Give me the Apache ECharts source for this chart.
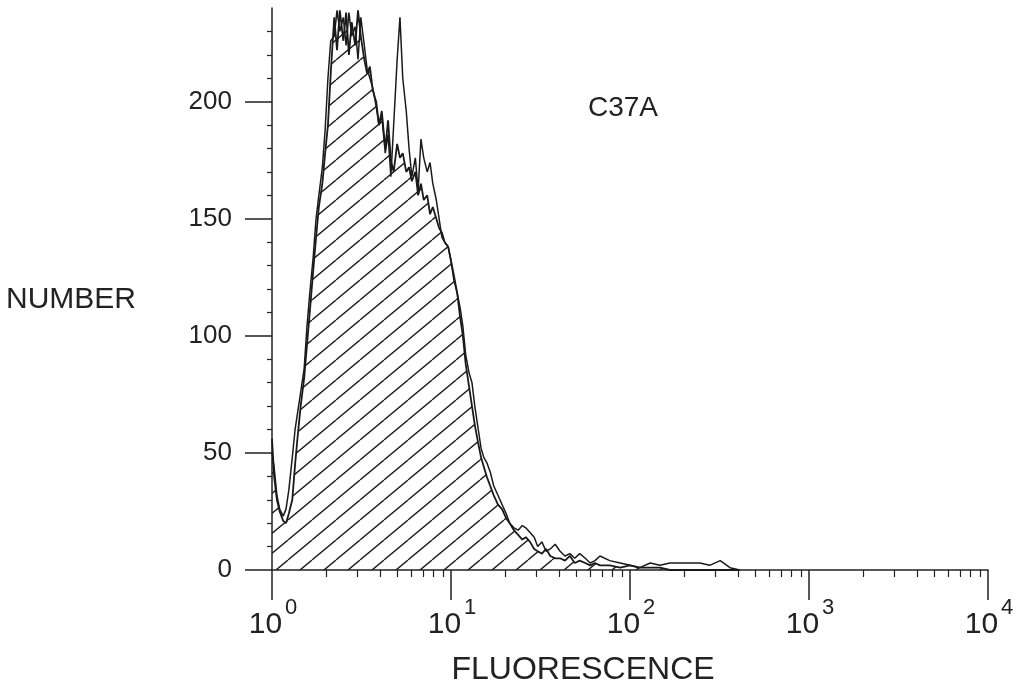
<!DOCTYPE html>
<html>
<head>
<meta charset="utf-8">
<script src="https://cdn.jsdelivr.net/npm/echarts@6/dist/echarts.min.js"></script>
<style>
html,body{margin:0;padding:0;background:#fff;}
#chart{width:1013px;height:687px;}
</style>
</head>
<body>
<div id="chart"></div>
<script>
// Fluorescence channel (0..1024 spans 10^0..10^4 on a 4-decade log scale)
const channels = [0,3,7,11,16,20,24,29,33,37,41,46,50,54,59,63,67,72,76,80,84,89,93,97,102,106,110,114,119,123,127,132,136,140,144,149,153,157,162,166,170,174,179,183,187,192,196,200,205,209,213,217,222,226,230,235,239,243,247,252,256,260,265,269,273,277,282,286,290,295,299,303,307,312,317,323,329,335,340,346,352,358,363,369,375,380,386,392,398,405,412,419,426,433,440,448,455,462,469,483,498,512,526,541,555,569,584,598,612,626,641,655,669];
// Hatched histogram (C37A)
const hatchedCounts = [56,40,30,25,21,20,24,30,45,58,70,82,96,110,128,142,155,165,178,190,212,236,222,239,226,238,220,234,224,239,228,218,212,215,205,200,190,196,180,192,175,170,182,176,178,170,172,166,170,160,165,158,160,152,155,150,146,144,140,138,132,126,118,108,100,88,78,70,62,54,48,44,40,36,32,28,26,22,20,17,15,13,14,12,9,8,7,9,6,5,5,4,6,3,4,3,2,3,2,2,1,2,1,1,1,0,0,0,0,0,0,0,0];
// Outline histogram
const outlineCounts = [50,44,32,26,23,26,34,48,60,68,76,86,104,118,134,150,160,172,188,210,226,228,239,230,236,224,238,228,232,218,236,224,214,210,206,198,190,194,178,186,168,190,218,236,210,196,180,168,176,162,184,176,170,174,165,158,150,142,140,138,132,124,118,112,104,92,84,80,70,60,52,48,46,42,36,32,28,24,20,18,17,19,18,16,14,10,12,8,9,11,8,6,7,5,7,5,3,4,6,4,3,2,1,3,2,3,3,3,3,2,4,1,0];
// Tick labels
const decadeExponents = [0,1,2,3,4];
const yMajorTicks = [0,50,100,150,200];
const yMinorTicks = [10,20,30,40,60,70,80,90,110,120,130,140,160,170,180,190,210,220,230];
const subDecadeMultipliers = [2,3,4,5,6,7,8,9];
const CHANNELS_PER_DECADE = 256;
const sampleLabel = 'C37A';
const xTitle = 'FLUORESCENCE';
const yTitle = 'NUMBER';

const majorX = decadeExponents.map(e => e * CHANNELS_PER_DECADE);
const minorX = [];
for (let d = 0; d < 4; d++) {
  subDecadeMultipliers.forEach(k => minorX.push((d + Math.log10(k)) * CHANNELS_PER_DECADE));
}

// hatch pattern
const tw = 24, th = 20;
const pc = document.createElement('canvas');
pc.width = tw; pc.height = th;
const ctx = pc.getContext('2d');
ctx.strokeStyle = '#222';
ctx.lineWidth = 1.4;
ctx.beginPath();
ctx.moveTo(0, th); ctx.lineTo(tw, 0);
ctx.moveTo(-tw, th); ctx.lineTo(0, 0);
ctx.moveTo(tw, th); ctx.lineTo(2 * tw, 0);
ctx.stroke();

const font = 'Liberation Sans';
const ink = '#222';
const chart = echarts.init(document.getElementById('chart'), null, {renderer: 'canvas'});
chart.setOption({
  animation: false,
  backgroundColor: '#fff',
  textStyle: {fontFamily: font},
  grid: {left: 272, right: 25, top: 8, bottom: 117, containLabel: false, outerBoundsMode: 'none'},
  xAxis: [{
    // main axis: line, major ticks, "10" base of labels, title
    type: 'value', min: 0, max: 1024, position: 'bottom',
    axisLine: {show: true, onZero: false, lineStyle: {color: ink, width: 1.5}},
    axisTick: {show: true, customValues: majorX, length: 30, lineStyle: {color: ink, width: 1.5}},
    axisLabel: {
      show: true, customValues: majorX, margin: 40,
      formatter: () => '10',
      fontSize: 30, lineHeight: 30, fontFamily: font, color: ink,
      align: 'center', padding: [0, 13, 0, 0]
    },
    splitLine: {show: false},
    name: xTitle, nameLocation: 'middle', nameGap: 84,
    nameTextStyle: {fontSize: 32, fontFamily: font, color: ink, padding: [0, 94, 0, 0]}
  }, {
    // minor ticks
    type: 'value', min: 0, max: 1024, position: 'bottom',
    axisLine: {show: false},
    axisTick: {show: true, customValues: minorX, length: 7, lineStyle: {color: ink, width: 1.2}},
    axisLabel: {show: false},
    splitLine: {show: false}
  }, {
    // exponent superscripts
    type: 'value', min: 0, max: 1024, position: 'bottom',
    axisLine: {show: false},
    axisTick: {show: false},
    axisLabel: {
      show: true, customValues: majorX, margin: 27,
      formatter: v => String(Math.round(v / CHANNELS_PER_DECADE)),
      fontSize: 22, lineHeight: 22, fontFamily: font, color: ink,
      align: 'left', padding: [0, 0, 0, 13]
    },
    splitLine: {show: false}
  }],
  yAxis: [{
    type: 'value', min: 0, max: 240, position: 'left',
    axisLine: {show: true, lineStyle: {color: ink, width: 1.5}},
    axisTick: {show: true, customValues: yMajorTicks, length: 27, lineStyle: {color: ink, width: 1.5}},
    axisLabel: {show: true, customValues: yMajorTicks, margin: 40, fontSize: 26, fontFamily: font, color: ink},
    splitLine: {show: false}
  }, {
    type: 'value', min: 0, max: 240, position: 'left',
    axisLine: {show: false},
    axisTick: {show: true, customValues: yMinorTicks, length: 5, lineStyle: {color: ink, width: 1.2}},
    axisLabel: {show: false},
    splitLine: {show: false}
  }],
  graphic: [{
    type: 'text', left: 588, top: 94,
    style: {text: sampleLabel, fontSize: 28, fontFamily: font, fill: ink}
  }, {
    type: 'text', left: 6, top: 285,
    style: {text: yTitle, fontSize: 30, fontFamily: font, fill: ink}
  }],
  series: [{
    type: 'line', name: 'C37A', xAxisIndex: 0, yAxisIndex: 0,
    data: channels.map((c, i) => [c, hatchedCounts[i]]),
    showSymbol: false, symbol: 'none', clip: true,
    lineStyle: {color: '#1a1a1a', width: 1.8},
    areaStyle: {color: {image: pc, repeat: 'repeat'}, opacity: 1},
    z: 2
  }, {
    type: 'line', name: 'outline', xAxisIndex: 0, yAxisIndex: 0,
    data: channels.map((c, i) => [c, outlineCounts[i]]),
    showSymbol: false, symbol: 'none', clip: true,
    lineStyle: {color: '#1a1a1a', width: 1.5},
    z: 3
  }]
});
</script>
</body>
</html>
